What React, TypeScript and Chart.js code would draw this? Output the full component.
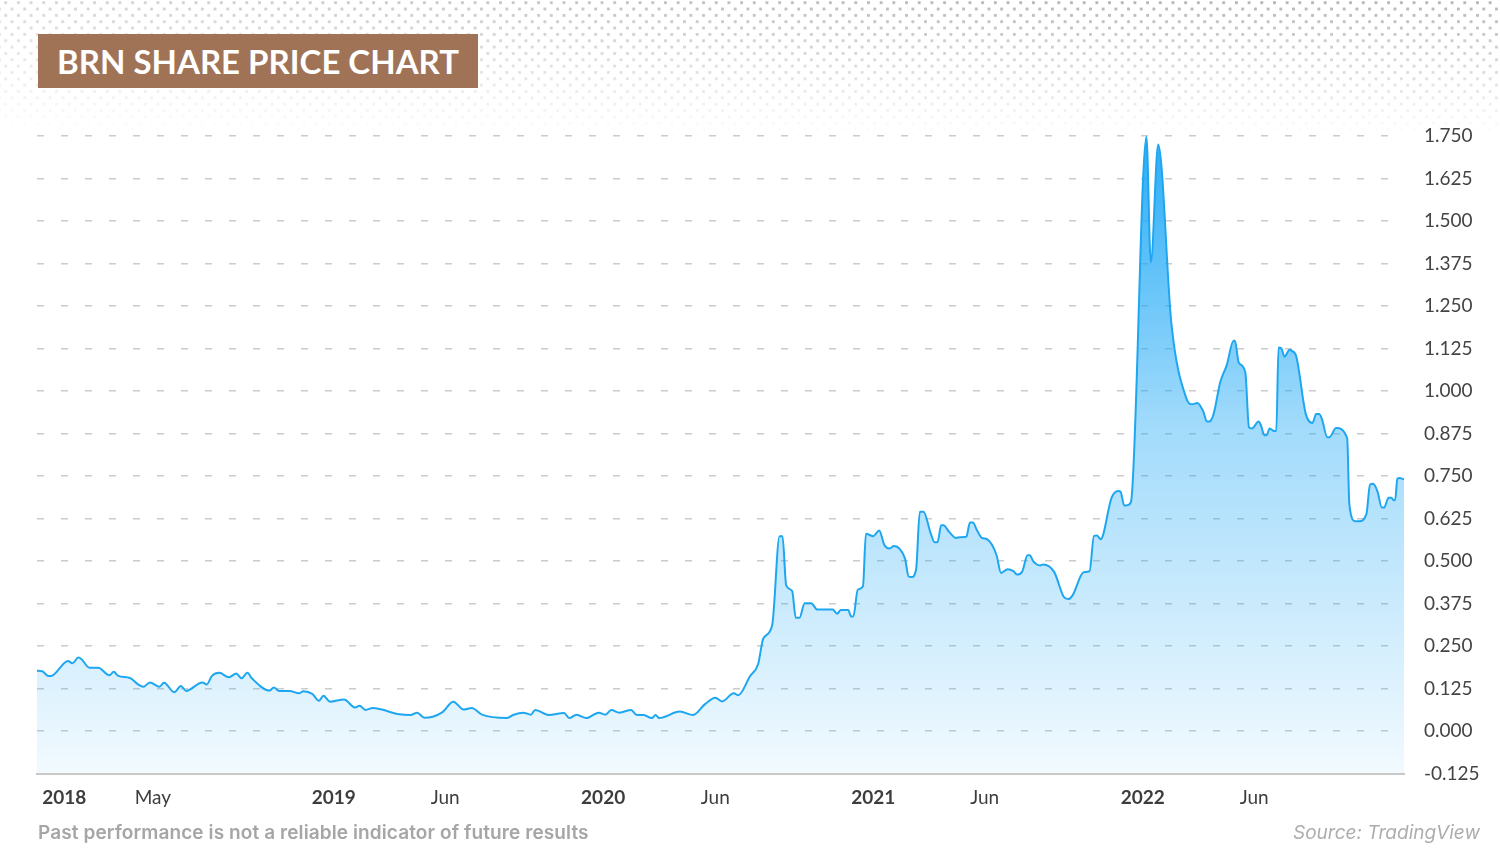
import React, { useEffect, useRef } from "react";
import { Chart, registerables } from "chart.js";

Chart.register(...registerables);

// ---- data ----
const dates: string[] = [
  "2017-11-25", "2017-12-02", "2017-12-10", "2017-12-14", "2018-01-06", "2018-01-12", "2018-01-20", "2018-01-24",
  "2018-02-04", "2018-02-16", "2018-03-03", "2018-03-09", "2018-03-15", "2018-03-31", "2018-04-11", "2018-04-18",
  "2018-04-27", "2018-05-10", "2018-05-16", "2018-05-30", "2018-06-08", "2018-06-15", "2018-07-07", "2018-07-13",
  "2018-07-20", "2018-07-30", "2018-08-12", "2018-08-22", "2018-08-29", "2018-09-06", "2018-09-12", "2018-10-06",
  "2018-10-12", "2018-10-19", "2018-11-02", "2018-11-15", "2018-11-21", "2018-12-03", "2018-12-12", "2018-12-18",
  "2018-12-27", "2019-01-15", "2019-01-30", "2019-02-05", "2019-02-13", "2019-02-23", "2019-03-07", "2019-03-31",
  "2019-04-15", "2019-04-24", "2019-05-04", "2019-05-28", "2019-06-12", "2019-06-26", "2019-07-07", "2019-07-21",
  "2019-08-24", "2019-09-01", "2019-09-15", "2019-09-25", "2019-10-01", "2019-10-19", "2019-11-09", "2019-11-16",
  "2019-11-26", "2019-12-09", "2019-12-26", "2020-01-04", "2020-01-12", "2020-01-23", "2020-02-08", "2020-02-15",
  "2020-02-25", "2020-03-07", "2020-03-12", "2020-03-17", "2020-04-14", "2020-05-02", "2020-05-18", "2020-06-01",
  "2020-06-10", "2020-06-26", "2020-07-02", "2020-07-18", "2020-07-29", "2020-08-05", "2020-08-17", "2020-08-27",
  "2020-08-31", "2020-09-05", "2020-09-13", "2020-09-18", "2020-09-23", "2020-09-30", "2020-10-09", "2020-10-17",
  "2020-11-07", "2020-11-13", "2020-11-18", "2020-11-28", "2020-12-02", "2020-12-05", "2020-12-11", "2020-12-18",
  "2020-12-22", "2021-01-01", "2021-01-09", "2021-01-16", "2021-01-23", "2021-01-29", "2021-02-06", "2021-02-13",
  "2021-02-18", "2021-02-22", "2021-02-28", "2021-03-05", "2021-03-10", "2021-03-20", "2021-03-25", "2021-03-29",
  "2021-04-03", "2021-04-06", "2021-04-14", "2021-04-23", "2021-04-29", "2021-05-07", "2021-05-12", "2021-05-16",
  "2021-05-21", "2021-05-28", "2021-06-04", "2021-06-17", "2021-06-23", "2021-07-02", "2021-07-10", "2021-07-15",
  "2021-07-22", "2021-07-29", "2021-08-01", "2021-08-06", "2021-08-15", "2021-08-19", "2021-09-03", "2021-09-16",
  "2021-09-22", "2021-09-28", "2021-10-13", "2021-10-21", "2021-10-27", "2021-10-31", "2021-11-05", "2021-11-20",
  "2021-11-29", "2021-12-02", "2021-12-07", "2021-12-11", "2021-12-16", "2022-01-06", "2022-01-12", "2022-01-22",
  "2022-02-09", "2022-03-01", "2022-03-09", "2022-03-16", "2022-03-24", "2022-03-29", "2022-04-01", "2022-04-07",
  "2022-04-16", "2022-04-25", "2022-05-04", "2022-05-06", "2022-05-11", "2022-05-20", "2022-05-25", "2022-05-29",
  "2022-06-07", "2022-06-10", "2022-06-15", "2022-06-18", "2022-06-22", "2022-06-28", "2022-07-01", "2022-07-04",
  "2022-07-08", "2022-07-12", "2022-07-19", "2022-07-22", "2022-07-28", "2022-08-10", "2022-08-19", "2022-08-24",
  "2022-08-28", "2022-09-01", "2022-09-08", "2022-09-11", "2022-09-20", "2022-10-05", "2022-10-08", "2022-10-16",
  "2022-10-21", "2022-10-31", "2022-11-05", "2022-11-09", "2022-11-15", "2022-11-21", "2022-11-24", "2022-11-30",
  "2022-12-04", "2022-12-07", "2022-12-09", "2022-12-12", "2022-12-15", "2022-12-21",
];

const prices: number[] = [
  0.177, 0.176, 0.162, 0.162, 0.206, 0.199, 0.216, 0.212,
  0.186, 0.186, 0.164, 0.174, 0.162, 0.156, 0.137, 0.130,
  0.143, 0.130, 0.142, 0.114, 0.132, 0.118, 0.143, 0.137,
  0.162, 0.171, 0.158, 0.169, 0.155, 0.171, 0.155, 0.119,
  0.128, 0.118, 0.118, 0.111, 0.117, 0.109, 0.089, 0.104,
  0.086, 0.093, 0.069, 0.074, 0.062, 0.068, 0.063, 0.049,
  0.047, 0.054, 0.039, 0.055, 0.086, 0.063, 0.068, 0.048,
  0.038, 0.047, 0.054, 0.048, 0.062, 0.047, 0.053, 0.038,
  0.048, 0.038, 0.054, 0.048, 0.062, 0.054, 0.062, 0.048,
  0.047, 0.038, 0.047, 0.038, 0.057, 0.047, 0.079, 0.098,
  0.087, 0.111, 0.105, 0.161, 0.197, 0.272, 0.311, 0.573,
  0.573, 0.428, 0.412, 0.333, 0.333, 0.376, 0.376, 0.357,
  0.357, 0.345, 0.356, 0.356, 0.337, 0.337, 0.416, 0.426,
  0.580, 0.573, 0.590, 0.547, 0.537, 0.544, 0.535, 0.507,
  0.454, 0.453, 0.475, 0.645, 0.645, 0.580, 0.555, 0.555,
  0.605, 0.605, 0.585, 0.568, 0.570, 0.571, 0.613, 0.613,
  0.593, 0.568, 0.564, 0.517, 0.465, 0.476, 0.470, 0.460,
  0.470, 0.517, 0.517, 0.498, 0.487, 0.490, 0.468, 0.395,
  0.388, 0.399, 0.467, 0.470, 0.574, 0.575, 0.564, 0.687,
  0.706, 0.704, 0.663, 0.664, 0.673, 1.748, 1.378, 1.725,
  1.195, 0.979, 0.961, 0.965, 0.940, 0.910, 0.910, 0.932,
  1.026, 1.077, 1.148, 1.148, 1.084, 1.055, 0.893, 0.890,
  0.910, 0.900, 0.870, 0.870, 0.890, 0.882, 0.882, 1.128,
  1.125, 1.101, 1.121, 1.118, 1.102, 0.932, 0.906, 0.932,
  0.932, 0.916, 0.864, 0.864, 0.891, 0.861, 0.666, 0.617,
  0.617, 0.637, 0.725, 0.727, 0.705, 0.657, 0.657, 0.686,
  0.686, 0.679, 0.679, 0.742, 0.744, 0.740,
];

const tickDates: string[] = [
  "2018-01-01", "2018-05-01", "2019-01-01", "2019-06-01", "2020-01-01",
  "2020-06-01", "2021-01-01", "2021-06-01", "2022-01-01", "2022-06-01",
];
const tickLabels: string[] = ["2018", "May", "2019", "Jun", "2020", "Jun", "2021", "Jun", "2022", "Jun"];
const tickIsYear: boolean[] = [true, false, true, false, true, false, true, false, true, false];

const yMin = -0.125;
const yMax = 1.75;
const yStep = 0.125;

const titleText = "BRN SHARE PRICE CHART";
const disclaimerText = "Past performance is not a reliable indicator of future results";
const sourceText = "Source: TradingView";

const FONT = "Lato, 'Noto Sans', sans-serif";
const FOOT_FONT = "Inter, 'Noto Sans', sans-serif";

function toYear(d: string): number {
  const [y, m, day] = d.split("-").map(Number);
  return 2018 + (Date.UTC(y, m - 1, day) - Date.UTC(2018, 0, 1)) / (365.25 * 86400000);
}

export default function App() {
  const canvasRef = useRef<HTMLCanvasElement | null>(null);

  useEffect(() => {
    const canvas = canvasRef.current;
    if (!canvas) return;
    const points = dates.map((d, i) => ({ x: toYear(d), y: prices[i] }));

    const chart = new Chart(canvas, {
      type: "line",
      data: {
        datasets: [
          {
            data: points,
            borderColor: "#1ea7f0",
            borderWidth: 2,
            pointRadius: 0,
            cubicInterpolationMode: "monotone",
            fill: "start",
            clip: 4,
            backgroundColor: (ctx: any) => {
              const area = ctx.chart.chartArea;
              if (!area) return "rgba(33,170,245,0.3)";
              const g = ctx.chart.ctx.createLinearGradient(0, area.top, 0, area.bottom);
              g.addColorStop(0, "rgba(30,168,246,0.95)");
              g.addColorStop(0.45, "rgba(30,168,246,0.42)");
              g.addColorStop(1, "rgba(30,168,246,0.06)");
              return g;
            },
          },
        ],
      },
      options: {
        animation: false,
        responsive: false,
        maintainAspectRatio: false,
        layout: { padding: { left: 37, top: 136, right: 0, bottom: 0 } },
        plugins: { legend: { display: false }, tooltip: { enabled: false } },
        scales: {
          x: {
            type: "linear",
            min: toYear(dates[0]),
            max: toYear(dates[dates.length - 1]),
            grid: { display: false, drawTicks: false },
            border: { display: true, color: "#c8c8c8", width: 2 },
            afterBuildTicks: (s: any) => {
              s.ticks = tickDates.map((d) => ({ value: toYear(d) }));
            },
            afterFit: (s: any) => {
              s.height = 86.5;
            },
            ticks: {
              autoSkip: false,
              maxRotation: 0,
              padding: 13,
              color: "#3d3d3d",
              font: (ctx: any) => ({
                family: FONT,
                size: 19,
                weight: tickIsYear[ctx.index] ? "bold" : "normal",
              }),
              callback: (_v: any, i: number) => tickLabels[i],
            },
          },
          y: {
            type: "linear",
            position: "right",
            min: yMin,
            max: yMax,
            grid: {
              drawTicks: false,
              lineWidth: 1.5,
              color: (ctx: any) =>
                ctx.tick && Math.abs(ctx.tick.value - yMin) < 1e-6 ? "rgba(0,0,0,0)" : "#cbcbcb",
            },
            border: { display: false, dash: [7, 17] },
            afterFit: (s: any) => {
              s.width = 96;
            },
            ticks: {
              stepSize: yStep,
              padding: 20,
              color: "#444444",
              font: { family: FONT, size: 19 },
              callback: (v: any) => Number(v).toFixed(3),
            },
          },
        },
      },
    });

    return () => chart.destroy();
  }, []);

  return (
    <div
      style={{
        position: "absolute",
        left: 0,
        top: 0,
        width: 1500,
        height: 860,
        overflow: "hidden",
        background: "#ffffff",
      }}
    >
      <div
        style={{
          position: "absolute",
          left: 0,
          top: 0,
          width: 1500,
          height: 135,
          backgroundImage:
            "linear-gradient(to right, rgba(255,255,255,0.45), rgba(255,255,255,0) 70%)," +
            "radial-gradient(circle at center, #b4b4b4 1.3px, rgba(180,180,180,0) 1.9px)," +
            "radial-gradient(circle at center, #b4b4b4 1.3px, rgba(180,180,180,0) 1.9px)",
          backgroundSize: "100% 100%, 12.7px 12.7px, 12.7px 12.7px",
          backgroundPosition: "0 0, -0.65px -3.65px, 5.7px 2.7px",
          WebkitMaskImage: "linear-gradient(to bottom, #000 0%, rgba(0,0,0,0.35) 65%, rgba(0,0,0,0) 100%)",
          maskImage: "linear-gradient(to bottom, #000 0%, rgba(0,0,0,0.35) 65%, rgba(0,0,0,0) 100%)",
        }}
      />
      <canvas
        ref={canvasRef}
        width={1500}
        height={860}
        style={{ position: "absolute", left: 0, top: 0, width: 1500, height: 860 }}
      />
      <div
        style={{
          position: "absolute",
          left: 38,
          top: 34,
          width: 440,
          height: 54,
          background: "#a07357",
          color: "#ffffff",
          fontFamily: FONT,
          fontWeight: 700,
          fontSize: 33,
          display: "flex",
          alignItems: "center",
          justifyContent: "center",
          whiteSpace: "nowrap",
        }}
      >
        {titleText}
      </div>
      <div
        style={{
          position: "absolute",
          left: 38,
          top: 821,
          fontFamily: FOOT_FONT,
          fontWeight: 600,
          fontSize: 19,
          letterSpacing: "0.1px",
          lineHeight: "24px",
          color: "#a6a6a6",
          whiteSpace: "nowrap",
        }}
      >
        {disclaimerText}
      </div>
      <div
        style={{
          position: "absolute",
          right: 20,
          top: 821,
          fontFamily: FOOT_FONT,
          fontStyle: "italic",
          fontWeight: 400,
          fontSize: 19,
          lineHeight: "24px",
          color: "#adadad",
          whiteSpace: "nowrap",
        }}
      >
        {sourceText}
      </div>
    </div>
  );
}
